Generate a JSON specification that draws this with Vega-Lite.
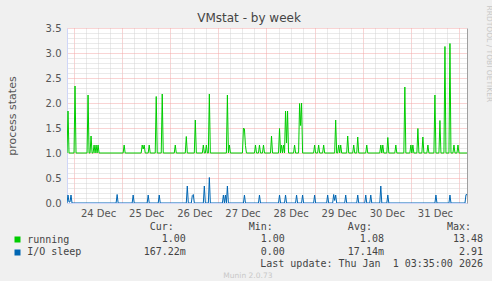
{
  "$schema": "https://vega.github.io/schema/vega-lite/v6.json",
  "background": "#f0f0f0",
  "padding": {"left": 6, "top": 5, "right": 0, "bottom": 0},
  "title": {"text": "VMstat - by week", "font": "DejaVu Sans", "fontSize": 12, "fontWeight": "normal", "color": "#444444", "anchor": "middle", "offset": -20},
  "spacing": 24,
  "bounds": "flush",
  "config": {"view": {"stroke": null}, "font": "DejaVu Sans", "axis": {"labelOverlap": false}},
  "datasets": {
    "running": [
      {"t":"2025-12-23T20:30","v":1},{"t":"2025-12-23T21:00","v":1.84},{"t":"2025-12-23T21:30","v":1},
      {"t":"2025-12-24T00:00","v":1},{"t":"2025-12-24T00:30","v":2.34},{"t":"2025-12-24T01:00","v":1},
      {"t":"2025-12-24T06:30","v":1},{"t":"2025-12-24T07:00","v":2.16},{"t":"2025-12-24T07:30","v":1},
      {"t":"2025-12-24T08:00","v":1},{"t":"2025-12-24T08:30","v":1.34},{"t":"2025-12-24T09:00","v":1},
      {"t":"2025-12-24T09:30","v":1},{"t":"2025-12-24T10:00","v":1.16},{"t":"2025-12-24T10:30","v":1},{"t":"2025-12-24T11:00","v":1.16},{"t":"2025-12-24T11:30","v":1},{"t":"2025-12-24T12:00","v":1.16},{"t":"2025-12-24T12:30","v":1},
      {"t":"2025-12-25T00:30","v":1},{"t":"2025-12-25T01:00","v":1.16},{"t":"2025-12-25T01:30","v":1},
      {"t":"2025-12-25T09:30","v":1},{"t":"2025-12-25T10:00","v":1.16},{"t":"2025-12-25T10:30","v":1.08},{"t":"2025-12-25T11:00","v":1.16},{"t":"2025-12-25T11:30","v":1},
      {"t":"2025-12-25T13:00","v":1},{"t":"2025-12-25T13:30","v":1.16},{"t":"2025-12-25T14:00","v":1},
      {"t":"2025-12-25T16:30","v":1},{"t":"2025-12-25T17:00","v":2.13},{"t":"2025-12-25T17:30","v":1},
      {"t":"2025-12-25T19:30","v":1},{"t":"2025-12-25T20:00","v":2.18},{"t":"2025-12-25T20:30","v":1},
      {"t":"2025-12-26T02:00","v":1},{"t":"2025-12-26T02:30","v":1.16},{"t":"2025-12-26T03:00","v":1},
      {"t":"2025-12-26T07:30","v":1},{"t":"2025-12-26T08:00","v":1.33},{"t":"2025-12-26T08:30","v":1},
      {"t":"2025-12-26T12:00","v":1},{"t":"2025-12-26T12:30","v":1.66},{"t":"2025-12-26T13:00","v":1},
      {"t":"2025-12-26T16:00","v":1},{"t":"2025-12-26T16:30","v":1.16},{"t":"2025-12-26T17:00","v":1},{"t":"2025-12-26T17:30","v":1},{"t":"2025-12-26T18:00","v":1.16},{"t":"2025-12-26T18:30","v":1},{"t":"2025-12-26T19:00","v":1},{"t":"2025-12-26T19:30","v":2.18},{"t":"2025-12-26T20:00","v":1},
      {"t":"2025-12-27T04:00","v":1},{"t":"2025-12-27T04:30","v":2.16},{"t":"2025-12-27T05:00","v":1},{"t":"2025-12-27T05:30","v":1.16},{"t":"2025-12-27T06:00","v":1},
      {"t":"2025-12-27T12:00","v":1},{"t":"2025-12-27T12:30","v":1.5},{"t":"2025-12-27T13:00","v":1.48},{"t":"2025-12-27T13:30","v":1.15},{"t":"2025-12-27T14:00","v":1},
      {"t":"2025-12-27T18:00","v":1},{"t":"2025-12-27T18:30","v":1.16},{"t":"2025-12-27T19:00","v":1},
      {"t":"2025-12-27T20:00","v":1},{"t":"2025-12-27T20:30","v":1.16},{"t":"2025-12-27T21:00","v":1},
      {"t":"2025-12-27T22:00","v":1},{"t":"2025-12-27T22:30","v":1.16},{"t":"2025-12-27T23:00","v":1},
      {"t":"2025-12-28T02:00","v":1},{"t":"2025-12-28T02:30","v":1.34},{"t":"2025-12-28T03:00","v":1},
      {"t":"2025-12-28T06:00","v":1},{"t":"2025-12-28T06:30","v":1.49},{"t":"2025-12-28T07:00","v":1},{"t":"2025-12-28T07:30","v":1.16},{"t":"2025-12-28T08:00","v":1},{"t":"2025-12-28T08:30","v":1.16},{"t":"2025-12-28T09:00","v":1},{"t":"2025-12-28T09:30","v":1.84},{"t":"2025-12-28T10:00","v":1.2},{"t":"2025-12-28T10:30","v":1.84},{"t":"2025-12-28T11:00","v":1},
      {"t":"2025-12-28T13:30","v":1},{"t":"2025-12-28T14:00","v":1.16},{"t":"2025-12-28T14:30","v":1},
      {"t":"2025-12-28T16:00","v":1},{"t":"2025-12-28T16:30","v":1.99},{"t":"2025-12-28T17:00","v":1.55},{"t":"2025-12-28T17:30","v":2.0},{"t":"2025-12-28T18:00","v":1},
      {"t":"2025-12-28T23:30","v":1},{"t":"2025-12-29T00:00","v":1.16},{"t":"2025-12-29T00:30","v":1},
      {"t":"2025-12-29T01:30","v":1},{"t":"2025-12-29T02:00","v":1.16},{"t":"2025-12-29T02:30","v":1},
      {"t":"2025-12-29T04:00","v":1},{"t":"2025-12-29T04:30","v":1.16},{"t":"2025-12-29T05:00","v":1},
      {"t":"2025-12-29T10:00","v":1},{"t":"2025-12-29T10:30","v":1.66},{"t":"2025-12-29T11:00","v":1},{"t":"2025-12-29T11:30","v":1},{"t":"2025-12-29T12:00","v":1.16},{"t":"2025-12-29T12:30","v":1},{"t":"2025-12-29T13:00","v":1.16},{"t":"2025-12-29T13:30","v":1},
      {"t":"2025-12-29T16:00","v":1},{"t":"2025-12-29T16:30","v":1.34},{"t":"2025-12-29T17:00","v":1},
      {"t":"2025-12-29T19:00","v":1},{"t":"2025-12-29T19:30","v":1.16},{"t":"2025-12-29T20:00","v":1},
      {"t":"2025-12-29T21:00","v":1},{"t":"2025-12-29T21:30","v":1.32},{"t":"2025-12-29T22:00","v":1},
      {"t":"2025-12-30T01:30","v":1},{"t":"2025-12-30T02:00","v":1.16},{"t":"2025-12-30T02:30","v":1},
      {"t":"2025-12-30T08:30","v":1},{"t":"2025-12-30T09:00","v":1.16},{"t":"2025-12-30T09:30","v":1},{"t":"2025-12-30T10:00","v":1.16},{"t":"2025-12-30T10:30","v":1},
      {"t":"2025-12-30T12:00","v":1},{"t":"2025-12-30T12:30","v":1.31},{"t":"2025-12-30T13:00","v":1},
      {"t":"2025-12-30T16:00","v":1},{"t":"2025-12-30T16:30","v":1.16},{"t":"2025-12-30T17:00","v":1},
      {"t":"2025-12-30T20:30","v":1},{"t":"2025-12-30T21:00","v":2.32},{"t":"2025-12-30T21:30","v":1},
      {"t":"2025-12-30T23:30","v":1},{"t":"2025-12-31T00:00","v":1.16},{"t":"2025-12-31T00:30","v":1},{"t":"2025-12-31T01:00","v":1.16},{"t":"2025-12-31T01:30","v":1},
      {"t":"2025-12-31T03:00","v":1},{"t":"2025-12-31T03:30","v":1.49},{"t":"2025-12-31T04:00","v":1},
      {"t":"2025-12-31T05:30","v":1},{"t":"2025-12-31T06:00","v":1.32},{"t":"2025-12-31T06:30","v":1},
      {"t":"2025-12-31T08:00","v":1},{"t":"2025-12-31T08:30","v":1.16},{"t":"2025-12-31T09:00","v":1},
      {"t":"2025-12-31T11:30","v":1},{"t":"2025-12-31T12:00","v":2.16},{"t":"2025-12-31T12:30","v":1},
      {"t":"2025-12-31T14:00","v":1},{"t":"2025-12-31T14:30","v":1.65},{"t":"2025-12-31T15:00","v":1},
      {"t":"2025-12-31T16:30","v":1},{"t":"2025-12-31T17:00","v":3.13},{"t":"2025-12-31T17:30","v":1},
      {"t":"2025-12-31T19:00","v":1},{"t":"2025-12-31T19:30","v":3.19},{"t":"2025-12-31T20:00","v":1},
      {"t":"2025-12-31T21:00","v":1},{"t":"2025-12-31T21:30","v":1.16},{"t":"2025-12-31T22:00","v":1},
      {"t":"2025-12-31T23:00","v":1},{"t":"2025-12-31T23:30","v":1.16},{"t":"2026-01-01T00:00","v":1},
      {"t":"2026-01-01T04:00","v":1}
    ],
    "io": [
      {"t":"2025-12-23T20:30","v":0},{"t":"2025-12-23T21:00","v":0.16},{"t":"2025-12-23T21:30","v":0.02},{"t":"2025-12-23T22:00","v":0.02},{"t":"2025-12-23T22:30","v":0.16},{"t":"2025-12-23T23:00","v":0},
      {"t":"2025-12-24T21:00","v":0},{"t":"2025-12-24T21:30","v":0.17},{"t":"2025-12-24T22:00","v":0},
      {"t":"2025-12-25T05:00","v":0},{"t":"2025-12-25T05:30","v":0.16},{"t":"2025-12-25T06:00","v":0},
      {"t":"2025-12-25T12:30","v":0},{"t":"2025-12-25T13:00","v":0.16},{"t":"2025-12-25T13:30","v":0},
      {"t":"2025-12-25T18:00","v":0},{"t":"2025-12-25T18:30","v":0.16},{"t":"2025-12-25T19:00","v":0},
      {"t":"2025-12-26T08:00","v":0},{"t":"2025-12-26T08:30","v":0.34},{"t":"2025-12-26T09:00","v":0},
      {"t":"2025-12-26T10:30","v":0},{"t":"2025-12-26T11:00","v":0.15},{"t":"2025-12-26T11:30","v":0.17},{"t":"2025-12-26T12:00","v":0},
      {"t":"2025-12-26T16:30","v":0},{"t":"2025-12-26T17:00","v":0.34},{"t":"2025-12-26T17:30","v":0},
      {"t":"2025-12-26T19:00","v":0},{"t":"2025-12-26T19:30","v":0.51},{"t":"2025-12-26T20:00","v":0},
      {"t":"2025-12-27T02:00","v":0},{"t":"2025-12-27T02:30","v":0.16},{"t":"2025-12-27T03:00","v":0},{"t":"2025-12-27T03:30","v":0.16},{"t":"2025-12-27T04:00","v":0},{"t":"2025-12-27T04:30","v":0.34},{"t":"2025-12-27T05:00","v":0},
      {"t":"2025-12-27T12:30","v":0},{"t":"2025-12-27T13:00","v":0.16},{"t":"2025-12-27T13:30","v":0},
      {"t":"2025-12-27T20:00","v":0},{"t":"2025-12-27T20:30","v":0.16},{"t":"2025-12-27T21:00","v":0},
      {"t":"2025-12-28T06:00","v":0},{"t":"2025-12-28T06:30","v":0.16},{"t":"2025-12-28T07:00","v":0},
      {"t":"2025-12-28T09:00","v":0},{"t":"2025-12-28T09:30","v":0.16},{"t":"2025-12-28T10:00","v":0},
      {"t":"2025-12-28T14:30","v":0},{"t":"2025-12-28T15:00","v":0.16},{"t":"2025-12-28T15:30","v":0},
      {"t":"2025-12-28T17:30","v":0},{"t":"2025-12-28T18:00","v":0.16},{"t":"2025-12-28T18:30","v":0},
      {"t":"2025-12-28T23:30","v":0},{"t":"2025-12-29T00:00","v":0.16},{"t":"2025-12-29T00:30","v":0},
      {"t":"2025-12-29T06:00","v":0},{"t":"2025-12-29T06:30","v":0.16},{"t":"2025-12-29T07:00","v":0},
      {"t":"2025-12-29T09:00","v":0},{"t":"2025-12-29T09:30","v":0.17},{"t":"2025-12-29T10:00","v":0.05},{"t":"2025-12-29T10:30","v":0.16},{"t":"2025-12-29T11:00","v":0},
      {"t":"2025-12-29T15:00","v":0},{"t":"2025-12-29T15:30","v":0.16},{"t":"2025-12-29T16:00","v":0},
      {"t":"2025-12-29T21:00","v":0},{"t":"2025-12-29T21:30","v":0.16},{"t":"2025-12-29T22:00","v":0},
      {"t":"2025-12-30T01:00","v":0},{"t":"2025-12-30T01:30","v":0.16},{"t":"2025-12-30T02:00","v":0},
      {"t":"2025-12-30T03:30","v":0},{"t":"2025-12-30T04:00","v":0.16},{"t":"2025-12-30T04:30","v":0},
      {"t":"2025-12-30T08:30","v":0},{"t":"2025-12-30T09:00","v":0.34},{"t":"2025-12-30T09:30","v":0},
      {"t":"2025-12-30T12:00","v":0},{"t":"2025-12-30T12:30","v":0.16},{"t":"2025-12-30T13:00","v":0},
      {"t":"2025-12-31T12:00","v":0},{"t":"2025-12-31T12:30","v":0.16},{"t":"2025-12-31T13:00","v":0},
      {"t":"2025-12-31T19:00","v":0},{"t":"2025-12-31T19:30","v":0.16},{"t":"2025-12-31T20:00","v":0},
      {"t":"2026-01-01T03:00","v":0},{"t":"2026-01-01T03:30","v":0.167},{"t":"2026-01-01T04:00","v":0.167}
    ],
    "stats": [
      {"series":"running","stat":"Cur","value":"1.00\u00a0"},
      {"series":"running","stat":"Min","value":"1.00\u00a0"},
      {"series":"running","stat":"Avg","value":"1.08\u00a0"},
      {"series":"running","stat":"Max","value":"13.48\u00a0"},
      {"series":"I/O sleep","stat":"Cur","value":"167.22m"},
      {"series":"I/O sleep","stat":"Min","value":"0.00\u00a0"},
      {"series":"I/O sleep","stat":"Avg","value":"17.14m"},
      {"series":"I/O sleep","stat":"Max","value":"2.91\u00a0"}
    ],
    "headers": [
      {"stat":"Cur","label":"Cur:"},
      {"stat":"Min","label":"Min:"},
      {"stat":"Avg","label":"Avg:"},
      {"stat":"Max","label":"Max:"}
    ],
    "lastupdate": [{"text":"Last update: Thu Jan\u00a0 1 03:35:00 2026"}],
    "munin": [{"text":"Munin 2.0.73"}]
  },
  "vconcat": [
    {
      "width": 400,
      "height": 175,
      "view": {"fill": "#ffffff", "stroke": null},
      "layer": [
        {
          "data": {"name": "running"},
          "mark": {"type": "line", "strokeWidth": 1, "clip": true},
          "encoding": {
            "x": {
              "field": "t", "type": "temporal",
              "scale": {"nice": false},
              "axis": {
                "title": null,
                "tickCount": 33,
                "labelExpr": "hours(datum.value) == 12 ? timeFormat(datum.value, '%d %b') : ''",
                "labelFont": "DejaVu Sans", "labelFontSize": 10, "labelColor": "#555555", "labelPadding": 5,
                "labelOverlap": false, "labelFlush": false,
                "ticks": false,
                "domainColor": "#cfd6f8",
                "grid": true,
                "gridColor": {"condition": {"test": "hours(datum.value) == 0", "value": "#f2a8a8"}, "value": "#d4d4d4"},
                "gridDash": [1, 1]
              }
            },
            "y": {
              "field": "v", "type": "quantitative",
              "scale": {"domain": [0, 3.5], "nice": false},
              "axis": {
                "values": [0,0.1,0.2,0.3,0.4,0.5,0.6,0.7,0.8,0.9,1,1.1,1.2,1.3,1.4,1.5,1.6,1.7,1.8,1.9,2,2.1,2.2,2.3,2.4,2.5,2.6,2.7,2.8,2.9,3,3.1,3.2,3.3,3.4,3.5],
                "title": "process states",
                "titleFont": "DejaVu Sans", "titleFontSize": 11, "titleFontWeight": "normal", "titleColor": "#555555", "titlePadding": 28,
                "labelExpr": "abs(datum.value * 2 - round(datum.value * 2)) < 0.001 ? format(datum.value, '.1f') : ''",
                "labelFont": "DejaVu Sans", "labelFontSize": 10, "labelColor": "#555555", "labelPadding": 6,
                "labelOverlap": false,
                "ticks": false,
                "domainColor": "#cfd6f8",
                "grid": true,
                "gridColor": {"condition": {"test": "abs(datum.value * 2 - round(datum.value * 2)) < 0.001", "value": "#f2a8a8"}, "value": "#d4d4d4"},
                "gridDash": [1, 1]
              }
            },
            "color": {"datum": "running", "type": "nominal", "scale": {"domain": ["running", "I/O sleep"], "range": ["#00cc00", "#0066b3"]}, "legend": null}
          }
        },
        {
          "data": {"name": "io"},
          "mark": {"type": "line", "strokeWidth": 1, "clip": true},
          "encoding": {
            "x": {"field": "t", "type": "temporal"},
            "y": {
              "field": "v", "type": "quantitative",
              "axis": {
                "orient": "right", "labels": false, "ticks": false, "grid": false,
                "domainColor": "#a0a0a0",
                "title": "RRDTOOL / TOBI OETIKER",
                "titleAngle": 90, "titleAlign": "left", "titleBaseline": "middle",
                "titleX": 21, "titleY": -23,
                "titleFont": "DejaVu Sans", "titleFontSize": 7.5, "titleFontWeight": "normal", "titleColor": "#c8c8c8"
              }
            },
            "color": {"datum": "I/O sleep", "type": "nominal", "legend": null}
          }
        }
      ],
      "resolve": {"axis": {"y": "independent"}}
    },
    {
      "width": 416,
      "height": 49,
      "view": {"stroke": null},
      "layer": [
        {
          "data": {"name": "stats"},
          "mark": {"type": "text", "align": "right", "baseline": "middle", "font": "DejaVu Sans Mono", "fontSize": 10, "color": "#444444"},
          "encoding": {
            "x": {"field": "stat", "type": "ordinal", "scale": {"type": "point", "domain": ["Cur", "Min", "Avg", "Max"], "padding": 0.6, "align": 1}, "axis": null},
            "y": {
              "field": "series", "type": "ordinal",
              "scale": {"type": "point", "domain": ["head", "running", "I/O sleep", "lastupdate", "munin"], "padding": 0},
              "axis": {
                "orient": "left", "offset": 47, "domain": false, "grid": false, "title": null,
                "ticks": true, "tickSize": 6, "tickWidth": 6,
                "tickColor": {"condition": {"test": "datum.value === 'running'", "value": "#00cc00"}, "value": "#0066b3"},
                "tickOpacity": {"condition": {"test": "datum.value === 'running' || datum.value === 'I/O sleep'", "value": 1}, "value": 0},
                "labelExpr": "datum.value === 'running' || datum.value === 'I/O sleep' ? datum.value : ''",
                "labelAlign": "left", "labelBaseline": "middle", "labelPadding": -12.7,
                "labelFont": "DejaVu Sans Mono", "labelFontSize": 10, "labelColor": "#444444", "labelOverlap": false
              }
            },
            "text": {"field": "value"}
          }
        },
        {
          "data": {"name": "headers"},
          "mark": {"type": "text", "align": "right", "baseline": "middle", "dx": -12, "font": "DejaVu Sans Mono", "fontSize": 10, "color": "#444444"},
          "encoding": {
            "x": {"field": "stat", "type": "ordinal", "axis": null},
            "y": {"datum": "head", "type": "ordinal"},
            "text": {"field": "label"}
          }
        },
        {
          "data": {"name": "lastupdate"},
          "mark": {"type": "text", "align": "right", "baseline": "middle", "font": "DejaVu Sans Mono", "fontSize": 10, "color": "#444444"},
          "encoding": {
            "x": {"datum": "Max", "type": "ordinal", "axis": null},
            "y": {"datum": "lastupdate", "type": "ordinal"},
            "text": {"field": "text"}
          }
        },
        {
          "data": {"name": "munin"},
          "mark": {"type": "text", "align": "center", "baseline": "middle", "dx": -37, "font": "DejaVu Sans", "fontSize": 7.5, "color": "#c8c8c8"},
          "encoding": {
            "x": {"datum": "Min", "type": "ordinal", "axis": null},
            "y": {"datum": "munin", "type": "ordinal"},
            "text": {"field": "text"}
          }
        }
      ]
    }
  ]
}
